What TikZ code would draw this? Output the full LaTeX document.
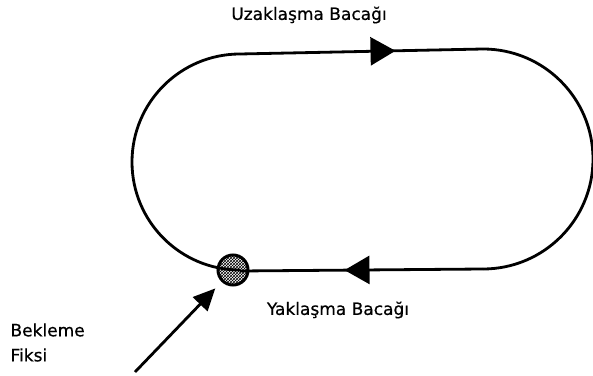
\documentclass[tikz,border=0pt]{standalone}
\usepackage{fontspec}
\setmainfont[FakeBold=0.6]{DejaVu Sans}
\usetikzlibrary{arrows.meta,decorations.markings,patterns,positioning}

\begin{document}
\begin{tikzpicture}[
  x=1pt, y=1pt,
  track/.style={line width=2.8pt},
  leg/.style={track, postaction={decorate},
              decoration={markings, mark=at position #1 with
                {\arrow{Triangle[length=25pt, width=28pt]}}}},
  fixpt/.style={circle, draw, line width=3pt, minimum size=30pt,
                inner sep=0pt, fill=white, pattern=crosshatch},
  lbl/.style={font=\fontsize{17}{25}\selectfont, align=left}
]
\useasboundingbox (0,0) rectangle (593,375);

% Racetrack turns
\draw[track] (240,105) arc[start angle=270, end angle=90, radius=108];
\draw[track] (483,326) arc[start angle=90, end angle=-90, radius=110];

% Legs
\draw[leg=0.64] (240,321) -- (483,326);
\draw[leg=0.57] (483,106) -- (240,104);

% Holding fix
\node[fixpt] (fix) at (233,105) {};
\coordinate (entry) at (135,3);
\draw[track, -{Triangle[length=22pt, width=20pt]}, shorten >=9pt] (entry) -- (fix);

% Labels
\node[lbl] (out) at (309,360) {Uzaklaşma Bacağı};
\node[lbl] (inb) at (338,65)  {Yaklaşma Bacağı};
\node[lbl, anchor=west] (hold) at (7,32.5) {Bekleme\\Fiksi};
\end{tikzpicture}
\end{document}
